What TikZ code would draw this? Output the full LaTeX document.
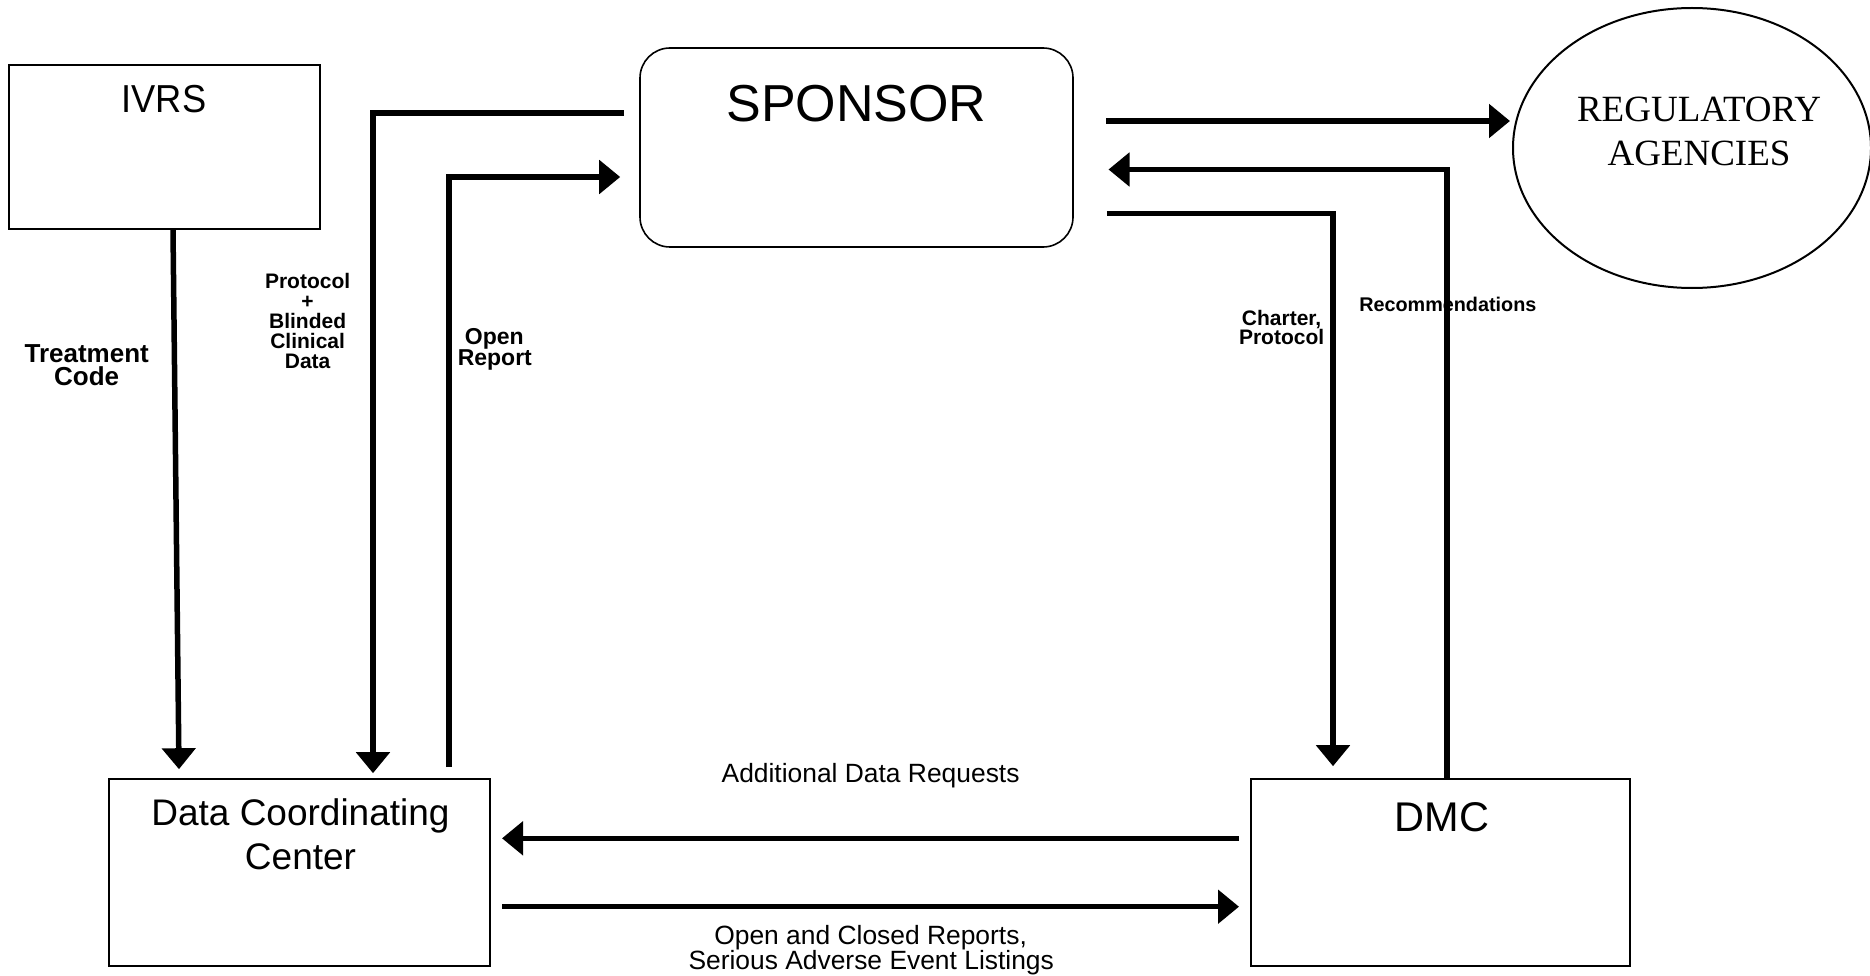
\documentclass[tikz,border=0pt]{standalone}
\usepackage{fontspec}
\setmainfont{Liberation Sans}
\newfontfamily\timesfont{Liberation Serif}
\usetikzlibrary{arrows.meta,shapes.geometric}

\begin{document}
\begin{tikzpicture}[x=1pt,y=-1pt,
  box/.style={draw, line width=2pt, inner sep=0pt},
  flow/.style={line width=5.5pt, -{Triangle[length=21pt,width=33pt]}},
  txt/.style={anchor=base, inner sep=0pt},
  big/.style={txt, font=\fontsize{37}{40}\selectfont},
  tag/.style={txt, font=\bfseries\fontsize{21}{20}\selectfont},
  note/.style={txt, font=\fontsize{26.4}{25}\selectfont},
]
\useasboundingbox (0,0) rectangle (1870,976);

% boxes
\node[box, minimum width=311pt, minimum height=164pt] (ivrs) at (164.5,147) {};
\node[box, line width=1.6pt, rounded corners=30pt, minimum width=433pt, minimum height=199pt] (sponsor) at (856.5,147.5) {};
\node[box, ellipse, minimum width=358pt, minimum height=280pt] (reg) at (1692,148) {};
\node[box, minimum width=381pt, minimum height=187pt] (dcc) at (299.5,872.7) {};
\node[box, minimum width=379pt, minimum height=187pt] (dmc) at (1440.5,872.7) {};

% box titles
\node[txt, font=\fontsize{39}{42}\selectfont] (ivrs-t) at (164,112.3) {\scalebox{0.93}[1]{IVRS}};
\node[txt, font=\fontsize{52}{56}\selectfont] (sponsor-t) at (856.5,121.6) {SPONSOR};
\node[txt, font=\timesfont\fontsize{37}{40}\selectfont] (reg-t1) at (1699,121.7) {REGULATORY};
\node[txt, font=\timesfont\fontsize{37}{40}\selectfont] (reg-t2) at (1699,166) {AGENCIES};
\node[big] (dcc-t1) at (300.5,825) {Data Coordinating};
\node[big] (dcc-t2) at (300.5,869) {Center};
\node[txt, font=\fontsize{41.5}{44}\selectfont] (dmc-t) at (1442,831) {DMC};

% connectors
\draw[flow] ([xshift=8.5pt]ivrs.south) -- ([xshift=-120.5pt,yshift=9pt]dcc.north);
\draw[flow] ([xshift=-15pt,yshift=34.5pt]sponsor.west) -| ([xshift=73.5pt,yshift=5pt]dcc.north);
\draw[flow] ([xshift=149.5pt,yshift=11pt]dcc.north) |- ([xshift=-19pt,yshift=-29.5pt]sponsor.west);
\draw[flow] ([xshift=32.5pt,yshift=26.5pt]sponsor.east) -- ([xshift=-2pt,yshift=27pt]reg.west);
\draw[flow] ([xshift=6.3pt]dmc.north) |- ([xshift=34.7pt,yshift=-22pt]sponsor.east);
\draw[flow] ([xshift=33pt,yshift=-66.2pt]sponsor.east) -| ([xshift=-107.5pt,yshift=12pt]dmc.north);
\draw[flow] ([xshift=-11pt,yshift=34.4pt]dmc.west) -- ([xshift=11pt,yshift=34.4pt]dcc.east);
\draw[flow] ([xshift=11pt,yshift=-34pt]dcc.east) -- ([xshift=-11pt,yshift=-34pt]dmc.west);

% connector labels
\node[txt, font=\bfseries\fontsize{26}{22}\selectfont] (tc1) at (86.7,362.7) {Treatment};
\node[txt, font=\bfseries\fontsize{26}{22}\selectfont] (tc2) at (86.7,385) {Code};

\node[tag] (pb1) at (307.6,288.3) {Protocol};
\node[tag] (pb2) at (307.6,308.3) {+};
\node[tag] (pb3) at (307.6,328.3) {Blinded};
\node[tag] (pb4) at (307.6,348.6) {Clinical};
\node[tag] (pb5) at (307.6,368.3) {Data};

\node[txt, font=\bfseries\fontsize{23}{20}\selectfont] (or1) at (494.3,344.5) {Open};
\node[txt, font=\bfseries\fontsize{23}{20}\selectfont] (or2) at (494.8,365) {Report};

\node[tag] (cp1) at (1281.6,325) {Charter,};
\node[tag] (cp2) at (1281.6,344) {Protocol};
\node[tag, font=\bfseries\fontsize{19.8}{20}\selectfont] (rec) at (1447.8,311.7) {Recommendations};

\node[note] (adr) at (870.6,782.7) {Additional Data Requests};
\node[note] (ocr1) at (870.6,944) {Open and Closed Reports,};
\node[note] (ocr2) at (871.2,969) {Serious Adverse Event Listings};
\end{tikzpicture}
\end{document}
